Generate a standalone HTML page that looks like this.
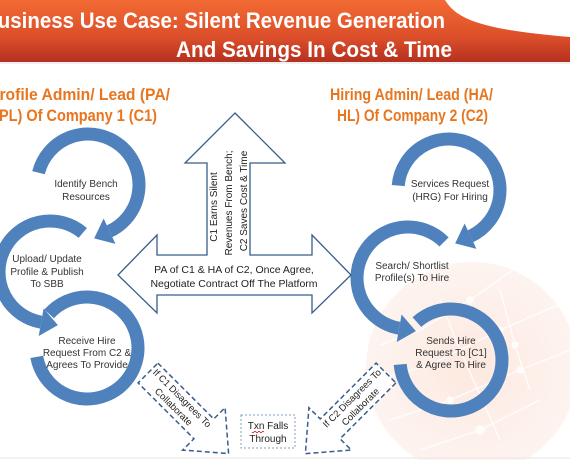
<!DOCTYPE html>
<html><head><meta charset="utf-8"><style>
html,body{margin:0;padding:0;background:#fff;}
svg{display:block;font-family:"Liberation Sans",Arial,sans-serif;}
</style></head><body>
<svg id="s" width="570" height="460" viewBox="0 0 570 460">
<defs>
<linearGradient id="hg" x1="0" y1="0" x2="0" y2="1">
<stop offset="0" stop-color="#f26a33"/><stop offset="0.6" stop-color="#dc4f2a"/><stop offset="1" stop-color="#b5301f"/>
</linearGradient>
<radialGradient id="gg" cx="0.5" cy="0.5" r="0.5">
<stop offset="0" stop-color="#fbd9c9" stop-opacity="0.6"/><stop offset="1" stop-color="#fbe6dd" stop-opacity="0.45"/>
</radialGradient>
</defs>
<g>
<rect x="0" y="0" width="570" height="62" fill="url(#hg)"/>
<path d="M445,0 C458,22 490,30 570,37 L570,0 Z" fill="#fff"/>
<line x1="0" y1="63" x2="570" y2="63" stroke="#e2e2e2" stroke-width="1"/>
<text x="445" y="28" text-anchor="end" textLength="462" lengthAdjust="spacingAndGlyphs" font-size="22" font-weight="bold" fill="#fff">Business Use Case: Silent Revenue Generation</text>
<text x="176" y="57" textLength="276" lengthAdjust="spacingAndGlyphs" font-size="22" font-weight="bold" fill="#fff">And Savings In Cost &amp; Time</text>
</g>
<g font-size="17" font-weight="bold" fill="#e8761f">
<text x="170" y="100" text-anchor="end" textLength="181" lengthAdjust="spacingAndGlyphs">Profile Admin/ Lead (PA/</text>
<text x="-1" y="121" textLength="158" lengthAdjust="spacingAndGlyphs">PL) Of Company 1 (C1)</text>
<text x="330" y="100" textLength="163" lengthAdjust="spacingAndGlyphs">Hiring Admin/ Lead (HA/</text>
<text x="337" y="121" textLength="151" lengthAdjust="spacingAndGlyphs">HL) Of Company 2 (C2)</text>
</g>
<g>
<circle cx="472" cy="368" r="106" fill="url(#gg)"/>
<g stroke="#fff" stroke-width="1.3" opacity="0.9" fill="#fff">
<polyline points="380,345 420,330 470,300 530,258" fill="none"/>
<polyline points="375,380 430,365 500,330 570,300" fill="none"/>
<polyline points="390,420 450,400 520,370 570,350" fill="none"/>
<polyline points="420,450 480,430 540,400" fill="none"/>
<polyline points="440,300 460,350 480,395 500,440" fill="none"/>
<polyline points="500,290 515,345 530,390" fill="none"/>
<circle cx="470" cy="300" r="3"/><circle cx="500" cy="330" r="3"/><circle cx="450" cy="400" r="3"/>
<circle cx="520" cy="370" r="3"/><circle cx="480" cy="430" r="4"/><circle cx="530" cy="258" r="3"/><circle cx="515" cy="345" r="3"/>
</g>
</g>
<g id="rings"></g>
<g font-size="10" fill="#333" text-anchor="middle">
<text><tspan x="86" y="187">Identify Bench</tspan><tspan x="86" y="200">Resources</tspan></text>
<text><tspan x="47" y="262">Upload/ Update</tspan><tspan x="47" y="275">Profile &amp; Publish</tspan><tspan x="47" y="287">To SBB</tspan></text>
<text><tspan x="87" y="344">Receive Hire</tspan><tspan x="87" y="356">Request From C2 &amp;</tspan><tspan x="87" y="368">Agrees To Provide</tspan></text>
<text><tspan x="450" y="187">Services Request</tspan><tspan x="450" y="200">(HRG) For Hiring</tspan></text>
<text><tspan x="412" y="269">Search/ Shortlist</tspan><tspan x="412" y="281">Profile(s) To Hire</tspan></text>
<text><tspan x="451" y="344">Sends Hire</tspan><tspan x="451" y="356">Request To [C1]</tspan><tspan x="451" y="368">&amp; Agree To Hire</tspan></text>
</g>
<path d="M235,113 L285,163 L250,163 L250,255 L312,255 L312,235 L351,275 L312,313 L312,295 L157,295 L157,313 L118,275 L157,235 L157,255 L207,255 L207,163 L185,163 Z" fill="#fff" stroke="#385d8a" stroke-width="1.3"/>
<g font-size="10" fill="#222" text-anchor="middle">
<text transform="translate(217,207) rotate(-90)">C1 Earns Silent</text>
<text transform="translate(232,203) rotate(-90)">Revenues From Bench;</text>
<text transform="translate(247,201) rotate(-90)">C2 Saves Cost &amp; Time</text>
</g>
<g font-size="10.5" fill="#222" text-anchor="middle">
<text x="234" y="273">PA of C1 &amp; HA of C2, Once Agree,</text>
<text x="234" y="287">Negotiate Contract Off The Platform</text>
</g>
<g transform="translate(148,373) rotate(45)">
<path d="M0,-14 L79,-14 L79,-30 L114,0 L79,30 L79,14 L0,14 Z" fill="#fff" stroke="#385d8a" stroke-width="1.5" stroke-dasharray="5,3"/>
<text x="42" y="-3" font-size="9.5" text-anchor="middle" fill="#222">If C1 Disagrees To</text>
<text x="42" y="9" font-size="9.5" text-anchor="middle" fill="#222">Collaborate</text>
</g>
<g transform="translate(386,373) rotate(135)">
<path d="M0,-14 L79,-14 L79,-30 L114,0 L79,30 L79,14 L0,14 Z" fill="#fff" stroke="#385d8a" stroke-width="1.5" stroke-dasharray="5,3"/>
<g transform="translate(42,0) rotate(180)">
<text x="0" y="-3" font-size="9.5" text-anchor="middle" fill="#222">If C2 Disagrees To</text>
<text x="0" y="9" font-size="9.5" text-anchor="middle" fill="#222">Collaborate</text>
</g>
</g>
<g>
<rect x="241" y="415" width="54" height="33" fill="#fff" stroke="#7f9cc0" stroke-width="1" stroke-dasharray="2,2"/>
<text x="268" y="429" font-size="10" text-anchor="middle" fill="#222">Txn Falls</text>
<text x="268" y="442" font-size="10" text-anchor="middle" fill="#222">Through</text>
<path d="M252,432 q1,1.5 2,0 q1,-1.5 2,0 q1,1.5 2,0 q1,-1.5 2,0 q1,1.5 2,0 q1,-1.5 2,0" fill="none" stroke="#d00" stroke-width="0.7"/>
</g>
<line x1="0" y1="458" x2="570" y2="458" stroke="#e6e6e6" stroke-width="1"/>
</svg>
<script>
const ringCenters=[[88,185],[50,272],[87,348],[449,190],[408,278],[451,360]];
const ringStart=[194,310,222,185,315,228];
const ringEnd=[425,100,530,425,100,535];
const ringDir=[1,-1,1,1,-1,1];
const ringArrow=[1,1,0,1,1,0];
const ringNames=['cycle-identify-bench','cycle-upload-profile','cycle-receive-request','cycle-services-request','cycle-search-shortlist','cycle-send-request'];
const NS='http://www.w3.org/2000/svg';
const g=document.getElementById('rings');
const R=51,W=13,col='#4f81bd';
function pt(c,a,r){const t=a*Math.PI/180;return [c[0]+r*Math.cos(t),c[1]+r*Math.sin(t)];}
ringCenters.forEach((c,i)=>{
  const a0=ringStart[i],a1=ringEnd[i],d=ringDir[i];
  const span=d>0?((a1-a0)%360+360)%360:((a0-a1)%360+360)%360;
  const p0=pt(c,a0,R),p1=pt(c,a1,R);
  const path=document.createElementNS(NS,'path');
  path.setAttribute('d',`M${p0[0]},${p0[1]} A${R},${R} 0 ${span>180?1:0} ${d>0?1:0} ${p1[0]},${p1[1]}`);
  path.setAttribute('fill','none');path.setAttribute('stroke',col);path.setAttribute('stroke-width',W);
  
  
  g.appendChild(path);
  if(ringArrow[i]){
    const t=a1*Math.PI/180;const n=[Math.cos(t),Math.sin(t)];
    const tg=d>0?[-Math.sin(t),Math.cos(t)]:[Math.sin(t),-Math.cos(t)];
    const b1=[p1[0]+n[0]*14,p1[1]+n[1]*14],b2=[p1[0]-n[0]*14,p1[1]-n[1]*14],tp=[p1[0]+tg[0]*17,p1[1]+tg[1]*17];
    const tri=document.createElementNS(NS,'polygon');
    tri.setAttribute('points',`${b1} ${b2} ${tp}`);tri.setAttribute('fill',col);
    
    
    g.appendChild(tri);
  }
});
</script>
</body></html>
